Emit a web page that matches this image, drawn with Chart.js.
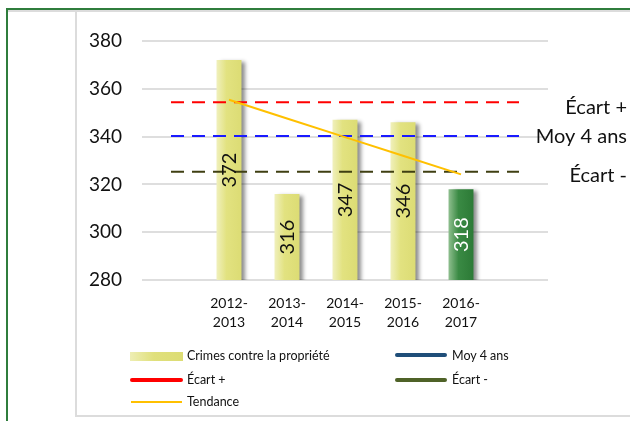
<!DOCTYPE html>
<html>
<head>
<meta charset="utf-8">
<script src="https://cdn.jsdelivr.net/npm/chart.js@4"></script>
<style>
  html, body { margin: 0; padding: 0; background: #fff; }
  #wrap { position: relative; width: 630px; height: 421px; overflow: hidden; font-family: Lato, "Noto Sans", sans-serif; }
  #c { position: absolute; left: 0; top: 0; }
  .frame { position: absolute; }
  .leg { position: absolute; font-size: 12.5px; color: #111; line-height: 14px; white-space: nowrap; }
  .sw { position: absolute; }
</style>
</head>
<body>
<div id="wrap">
  <div class="frame" style="left:8px;top:10px;width:622px;height:2px;background:#dcdcdc"></div>
  <div class="frame" style="left:75px;top:12px;width:2px;height:404px;background:#dcdcdc"></div>
  <div class="frame" style="left:75px;top:415px;width:555px;height:2px;background:#dcdcdc"></div>
  <div class="frame" style="left:6px;top:8px;width:624px;height:2px;background:#2f7d3c"></div>
  <div class="frame" style="left:6px;top:8px;width:2px;height:413px;background:#2f7d3c"></div>
  <canvas id="c" width="630" height="421"></canvas>

  <div class="sw" style="left:130px;top:352px;width:53px;height:9px;background:linear-gradient(90deg,#eeeeb4,#e0e07c 45%,#dcdc74)"></div>
  <div class="leg" style="left:187px;top:349px">Crimes contre la propriété</div>
  <div class="sw" style="left:395px;top:353px;width:52px;height:4px;border-radius:2px;background:#1f4e79"></div>
  <div class="leg" style="left:452px;top:349px">Moy 4 ans</div>
  <div class="sw" style="left:130px;top:378px;width:53px;height:4px;border-radius:2px;background:#ff0000"></div>
  <div class="leg" style="left:187px;top:373px">Écart +</div>
  <div class="sw" style="left:395px;top:378px;width:52px;height:4px;border-radius:2px;background:#4f6228"></div>
  <div class="leg" style="left:452px;top:373px">Écart -</div>
  <div class="sw" style="left:131px;top:401px;width:51px;height:2px;background:#ffc000"></div>
  <div class="leg" style="left:187px;top:395px">Tendance</div>
</div>
<script>
// ---- data ----
const categories = [[''], ['2012-', '2013'], ['2013-', '2014'], ['2014-', '2015'], ['2015-', '2016'], ['2016-', '2017'], ['']];
const crimes     = [null, 372, 316, 347, 346, 318, null];
const ecartPlus  = [354.4, 354.4, 354.4, 354.4, 354.4, 354.4, 354.4];
const moy4ans    = [340.3, 340.3, 340.3, 340.3, 340.3, 340.3, 340.3];
const ecartMoins = [325.3, 325.3, 325.3, 325.3, 325.3, 325.3, 325.3];
const tendance   = [null, 355.4, 347.6, 339.8, 332.0, 324.2, null];
const yTicks     = [280, 300, 320, 340, 360, 380];

const FONT = 'Lato, "Noto Sans", sans-serif';
const LAST = 5; // index of highlighted (current) year

function barFill(ctx) {
  const chart = ctx.chart;
  if (!chart.chartArea || !chart.scales.x) return ctx.dataIndex === LAST ? '#2e7d38' : '#e0e07c';
  const xs = chart.scales.x;
  const cx = xs.getPixelForValue(ctx.dataIndex);
  const w = (xs.width / categories.length) * 0.43;
  const g = chart.ctx.createLinearGradient(cx - w / 2, 0, cx + w / 2, 0);
  if (ctx.dataIndex === LAST) {
    g.addColorStop(0, '#8fbf8f');
    g.addColorStop(0.4, '#3a8a44');
    g.addColorStop(1, '#2c7a36');
  } else {
    g.addColorStop(0, '#f0f0bc');
    g.addColorStop(0.4, '#e2e280');
    g.addColorStop(1, '#dcdc74');
  }
  return g;
}

const shadowPlugin = {
  id: 'barShadow',
  beforeDatasetDraw(chart, args) {
    if (args.index !== 0) return;
    const c = chart.ctx;
    c.save();
    c.shadowColor = 'rgba(0,0,0,0.45)';
    c.shadowOffsetX = 4;
    c.shadowOffsetY = 2;
    c.shadowBlur = 4;
  },
  afterDatasetDraw(chart, args) {
    if (args.index !== 0) return;
    chart.ctx.restore();
  }
};

const labelPlugin = {
  id: 'labels',
  afterDraw(chart) {
    const c = chart.ctx;
    const xs = chart.scales.x, ys = chart.scales.y;
    // bar value labels, rotated
    crimes.forEach((v, i) => {
      if (v == null) return;
      const x = xs.getPixelForValue(i);
      const y = (ys.getPixelForValue(v) + ys.getPixelForValue(ys.min)) / 2;
      c.save();
      c.translate(x, y);
      c.rotate(-Math.PI / 2);
      c.font = '20px ' + FONT;
      c.fillStyle = i === LAST ? '#ffffff' : '#111111';
      c.textAlign = 'center';
      c.textBaseline = 'middle';
      c.fillText(String(v), 0, 1);
      c.restore();
    });
    // end labels of reference lines
    chart.data.datasets.forEach((ds, di) => {
      if (!ds.endLabel) return;
      const y = ys.getPixelForValue(ds.data[ds.data.length - 1]);
      c.save();
      c.font = '20px ' + FONT;
      c.fillStyle = '#111111';
      c.textAlign = 'right';
      c.textBaseline = 'middle';
      c.fillText(ds.endLabel, chart.width - 3, y + ds.endLabelDy);
      c.restore();
    });
  }
};

new Chart(document.getElementById('c'), {
  data: {
    labels: categories,
    datasets: [
      { type: 'bar', label: 'Crimes contre la propriété', data: crimes, backgroundColor: barFill,
        categoryPercentage: 1, barPercentage: 0.43, order: 5 },
      { type: 'line', label: 'Écart +', data: ecartPlus, borderColor: '#ff0000', borderWidth: 2,
        borderDash: [13, 8], pointRadius: 0, fill: false, order: 1, endLabel: 'Écart +', endLabelDy: 5 },
      { type: 'line', label: 'Moy 4 ans', data: moy4ans, borderColor: '#1a1aff', borderWidth: 2,
        borderDash: [13, 8], pointRadius: 0, fill: false, order: 2, endLabel: 'Moy 4 ans', endLabelDy: 1 },
      { type: 'line', label: 'Écart -', data: ecartMoins, borderColor: '#3f3f12', borderWidth: 2,
        borderDash: [13, 8], pointRadius: 0, fill: false, order: 3, endLabel: 'Écart -', endLabelDy: 4 },
      { type: 'line', label: 'Tendance', data: tendance, borderColor: '#ffc000', borderWidth: 2,
        pointRadius: 0, fill: false, spanGaps: false, order: 0 }
    ]
  },
  options: {
    responsive: false,
    animation: false,
    layout: { padding: { top: 41, right: 82, left: 0, bottom: 0 } },
    plugins: { legend: { display: false }, tooltip: { enabled: false } },
    scales: {
      x: {
        grid: { display: false, drawTicks: false },
        border: { display: false },
        ticks: { autoSkip: false, maxRotation: 0, padding: 14, color: '#111',
                 font: { family: FONT, size: 14, lineHeight: 1.35 } },
        afterFit(s) { s.height = 141; }
      },
      y: {
        min: 280, max: 380,
        afterBuildTicks(s) { s.ticks = yTicks.map(v => ({ value: v })); },
        grid: { color: '#dedede', lineWidth: 2, drawTicks: false },
        border: { display: false },
        ticks: { padding: 20, color: '#111', font: { family: FONT, size: 19 } },
        afterFit(s) { s.width = 142; }
      }
    }
  },
  plugins: [shadowPlugin, labelPlugin]
});
</script>
</body>
</html>
